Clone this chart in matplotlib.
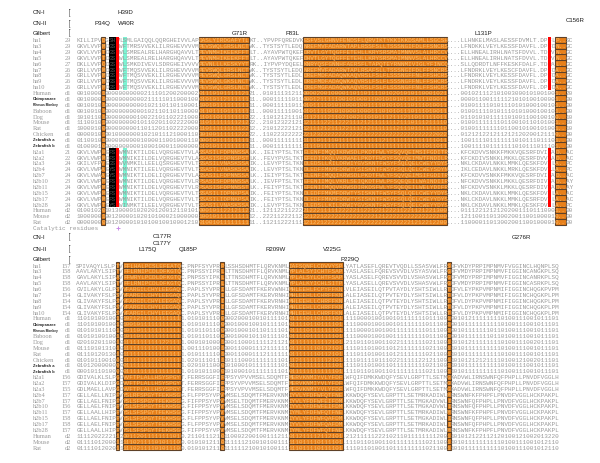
import matplotlib.pyplot as plt
from matplotlib.patches import Rectangle


def chunks(txt):
    # Sequenzen sind in 10er-Bloecken notiert, Leerzeichen nur zur Lesbarkeit
    return txt.replace(" ", "")


# ---------------- Daten ----------------
row_names = ["ha1", "ha3", "ha4", "ha5", "ha6", "ha7", "ha8", "ha9", "ha10",
             "Human", "Chimpanzee", "Rhesus Monkey", "Baboon", "Dog", "Mouse", "Rat",
             "Chicken", "Zebrafish a", "Zebrafish b",
             "h2a1", "h2a2", "h2a3", "h2b4", "h2b7", "h2b10", "h2b11", "h2b15",
             "h2b17", "h2b28", "Human", "Mouse", "Rat"]
bold_names = ["Chimpanzee", "Rhesus Monkey", "Zebrafish a", "Zebrafish b"]

top_start = ["29", "29", "29", "29", "27", "26", "26", "26", "26"] + ["d1"] * 10 + \
            ["21", "22", "24", "24", "24", "23", "24", "24", "24", "24"] + ["d2"] * 3
bottom_start = ["157", "158", "158", "158", "156", "154", "154", "154", "154"] + ["d1"] * 10 + \
               ["156", "157", "155", "157", "157", "156", "157", "158", "158", "157"] + ["d2"] * 3

top_seqs = [chunks(x) for x in [
    "KILLIPVDGS HWLSMLGAIQ QLQQRGHEIV VLAPDASLYI RDGAFYTLKT ..YPVPFQRE DVKESFVSLG HNVFENDSFL QRVIKTYKKI KKDSAMLLSG CSH....LLH NKELMASLAE SSFDVMLT.D PFLP..SC",
    "GKVLVVPMDG SHWFTMRSVV EKLILRGHEV VVVMPEVSWQ LGRSLNCTVK ..TYSTSYTL EDQNREFMVF ADARWTAPLR SSFSLLTSSS NGIFDLFFSN CRS....LFN DKKLVEYLKE SSFDAVFL.D PFDN..GC",
    "GKVLVVPTDG SHWLSMREAL RELHARGHQA VVLTPEVNMH IKEEKFFTLT ..AYAVPWTQ KEFDRVTLGY TQGFFETEHL LKRYSRSMAI MNNVSLALHR CCV....ELL HNEALIRHLN ATSFDVVL.T DPVN..GC",
    "GKVLVVPTDG SHWLSMREAL RELHARGHQA VVLTPEVNMH IKEEKFFTLT ..AYAVPWTQ KEFDHVTLGY TQGFFETEHL LKRYSRSMAI MNNVSLALHR CCV....ELL HNEALIRHLN ATSFDVVL.T DPVN..GC",
    "DKLLVVPQDG SHWLSMKDIV EVLSDRGHEI VVVVPEVNLL LKESKYYTRK ..IYPVPYDQ EELKNRYQSF GNNHFAERSF LTAPQTEYRN NMIVIGLYFI NCQ....SLL QDRDTLNFFK ESKFDALF.T DPAL..GC",
    "GRLLVVPMDG SHWFTMQSVV EKLILRGHEV VVVMPEVSWQ LERSLNCTVK ..TYSTSYTL EDQNREFMVF ADARWTAPLR SAFSLLTSSS NGIFDLFFSN CRS....LFN DRKLVEYLKE SCFDAVFL.D PFDA..GC",
    "GRLLVVPMDG SHWFTMQSVV EKLILRGHEV VVVMPEVSWQ LGRSLNCTVK ..TYSTSYTL EDLDREFMDF ADAQWKAQVR SLFSLFLSSS NGFFNLFFSH CRS....LFN DRKLVEYLKE SSFDAVFL.D PFDA..GC",
    "GRLLVVPMDG SHWFTMQSVV EKLILRGHEV VVVMPEVSWQ LGKSLNCTVK ..TYSTSYTL EDLDREFMDF ADAQWKAQVR SLFSLFLSSS NGFFNLFFSH CRS....LFN DRKLVEYLKE SSFDAVFL.D PFDA..GC",
    "GRLLVVPMDG SHWFTMQSVV EKLILRGHEV VVVMPEVSWQ LGRSLNCTVK ..TYSTSYTL EDLDREFMGF ADAQWKAQVR SLFSLFLSSS NGFFNLFFSH CRS....LFN DRKLVEYLKE SSFDAVFL.D PFDA..GC",
    "0010000100 0000000002 1110120020 0002011101 0111112121 ..01011131 2110000200 1000011011 0111101020 1010110001 021....001 0211121010 0300010100 1001..20",
    "0010000100 0000000002 1111101100 0100010101 1211111111 ..00011111 0110001211 1110010100 0110010101 0110111100 011....000 0110011111 2101010010 0001..00",
    "0010010100 0000000001 0211011011 0001100101 1111111111 ..00011111 0110101111 0101000010 0111101010 1110111010 011....010 0111101011 1010100010 0101..00",
    "0010010100 0000000001 0211011011 0000011011 1011111111 ..00011111 0010101111 0101000010 0011101010 1110111010 011....010 0111101011 1010100010 0101..00",
    "1010110100 0000000100 2210110222 1000110110 1111111222 ..11012121 1101112111 2110210021 1010111211 1211011111 011....011 0101011111 0100110010 0100..10",
    "1110010100 0000000101 1020110222 2000110111 1111121222 ..21012322 1211211112 2112221112 1211111112 1110111211 110....010 0111111101 1001011010 1001..10",
    "1000010000 0000000110 1120110222 2000110111 1111112212 ..21012222 1211211121 2111221112 1211111112 1110111111 110....010 0111111101 1001010010 1001..10",
    "0000010100 1000000010 2101112100 0110301001 1111122222 ..11022322 2222212322 2222222222 1222222222 2222222222 022....012 1212212112 1212020012 1110..00",
    "0110010100 0000000010 0001100100 0110000101 1111111111 ..00011111 1111111011 1101111111 1111121111 1111111111 011....100 1111011111 1101011101 1101..00",
    "0100001000 0000000010 0010001100 0000010101 1111111111 ..00011111 1111111011 1111111111 1111111111 1111111011 011....100 1111011111 1101011101 1101..00",
    "GKVLVWPMEF SHWMNIKTIL DELVQRGHEV TVLASSASIL FDPNNSSALK ..IEIYPTSL TKTELENFIM QQIKRWSDLP KDTFWLYFSQ VQEIMSIFGD ITR....KFC KDVVSNKKFM KKVQESRFDV IFAD..AC",
    "GKVLVWPMDF SHWMNIKIIL DELVQRGHEV TVLASSASIS FDPNSPSTLK ..FEVYPVSL TKTEFEDIIK QLVKRWAELP KDTFWSYFSQ VQEIMWTFND ILR....KFC KDIVSNKKLM KKLQESRFDV VLAD..AC",
    "GKILVFPVEG SHWVNMKILL EELQSRGHEV TVLTSSASIL VNASKSSAIK ..LEVYPTSL TKNDLEDSLL KILDRWIYGV SKNTFWSYFS QLQELCWEYY DYS....NKL CKDAVLNKKL MMKLQESKFD VILA..PC",
    "GKVLVWPAEY SHWMNIKTIL EELVQRGHEV TVLTSSASTL VNASKSSAIK ..LEVYPTSL TKNDLEDFFM KMFDRWTYSI SKNTFWSYFS QLQELCWEYS DYN....IKL CEDAVLNKKL MRKLQESKFD VLLA..PC",
    "GKVLVWAAEY SHWMNIKTIL DELIQRGHEV TVLASSASIL FDPNNSSALK ..IEIYPTSL TKTELENFIM QQIKRWSDLP KDTFWLYFSQ VQEIMSIFGD ITR....KFC KDVVSNKKFM KKVQESRFDV IFAD..AC",
    "GKVLVWPMEF SHWMNIKTIL DELVQRGHEV TVLRPSASIS FDPNNSSALK ..IEVFPTSL TKTEFENIIM QLVKRLSEIQ KDTFWLPFSQ EQEILWAIND IIR....NFC KDVVSNKKLM KKLQESRFDI VFAD..AY",
    "GKVLVWPMEF SHWMNIKTIL DELVQRGHEV TVLRPSASIS FDPNNSSTLK ..FEIYPTSL TKTEFENIIM QQVKRWSDIR KDSFWLYFSQ EQEILWELYD IFR....NFC KDVVSNKKLM KKLQESRFDI VFAD..AY",
    "GKVLVWPMEF SHWMNIKTIL DELVQRGHEV TVLTSSASIL IDPNKPSAIK ..FEIYPTSL TKNDLEDFFM KMFDRWTYSI SKNTFWSYFS QLQELCWEYY DYS....NKL CKDAVLNKKL MMKLQESKFD VILA..AC",
    "GKVLVWPMEF SHWMNIKTIL DELVQRGHEV TVLTSSASIL IDPNKPSAIK ..FEIYPTSL TKNDLEDFFM KMFDRWTYSI SKNTFWSYFS QLQELCWEYY DYS....NKL CKDAVLNKKL MMKLQESRFD VILA..AC",
    "GKVLVWPTEY SHWINMKTIL EELVQRGHEV TVLTSSASIL VNASKSSAIK ..LEVYPTSL TKNDLEDSLL KILDRWIYGV SKNTFWSYFS QLQELCWEYY DYS....NKL CKDAVLNKKL MMKLQESKFD VILA..PC",
    "0100102010 1300001020 2012001211 0101000101 1221211221 ..12112211 2222122211 1112222211 2212212221 1221121221 300....011 1221212120 2001110111 0001..00",
    "1000000100 1200001020 1010002100 0000100101 1111111112 ..22211222 1121212212 2222222222 2221212222 2222222222 200....121 1001101300 2001100100 0010..00",
    "0000000010 1200001010 1001001000 1210010010 1111111111 ..11211222 1111212212 2222212222 2222222222 2221212212 200....110 0001101300 2001100100 0010..00",
]]

bottom_seqs = [chunks(x) for x in [
    "SPIVAQYLSL PTVFFLHALP CSLEFEATQC .PNPFSYVPR PLSSHSDHMT FLQRVKNMLI AFSQNFLCDV VYSP.YATLA SEFLQREVTV QDLLSSASVW LFRSDFVKDY PRPIMPNMVF VGGINCLHQN PLSQ",
    "AAVLAKYLSI PTVFFLRNIP CDLDFKGTQC .PNPSSYIPR LLTTNSDHMT FLQRVKNMLY PLALSYICHT FSAP.YASLA SELFQREVSV VDLVSYASVW LFRGDFVMDY PRPIMPNMVF IGGINCANGK PLSQ",
    "GAVLAKYLSI PAVFFWRYLP CDLDFKGTQC .PNPSSYIPK LLTTNSDHMT FLQRVKNMLY PLALSYLCHT FSAP.YASLA SELFQREVSV VDLVSHASVW LFRGDFVMDY PRPIMPNMVF IGGINCANRK PLSQ",
    "AAVLAKYLSI PTVFFLRNIP CDLDFKGTQC .PNPSSYIPR LLTTNSDHMT FLQRVKNMLY PLALKYICHL SITP.YASLA SELLQREVSV VDLVSHASVW LFRGDFVMDY PRPIMPNMVF IGGINCASRK PLSQ",
    "GVILAKYLGL PSVVFARGIL CHYLEEGAQC .PAPLSYVPR ILLGFSDAMT FKERVWNHIM HLEEHLFCPY FFKN.VLEIA SEILQTPVTA YDLYSHTSIW LLRTDFVLEY PKPVMPNMIF IGGINCHQGK PVPM",
    "GLIVAKYFSL PSVVFARGIL CHYLEEGAQC .PAPLSYVPR ILLGFSDAMT FKERVRNHIM HLEEHLLCHR FFKN.ALEIA SEILQTPVTE YDLYSHTSIW LLRTDFVLDY PKPVMPNMIF IGGINCHQGK PLPM",
    "GLIVAKYFSL PSVVFARGIL CHYLEEGAQC .PAPLSYVPR ILLGFSDAMT FKERVRNHIM HLEEHLLCHR FFKN.ALEIA SEILQTPVTE YDLYSHTSIW LLRTDFVLDY PKPVMPNMIF IGGINCHQGK PLPM",
    "GLIVAKYFSL PSVVFARGIL CHYLEEGAQC .PAPLSYVPR ILLGFSDAMT FKERVRNHIM HLEEHLLCHR FFKN.ALEIA SEILQTPVTE YDLYSHTSIW LLRTDFVLDY PKPVMPNMIF IGGINCHQGK PLPM",
    "GLIVAKYFSL PSVVFARGIL CHYLEEGAQC .PAPLSYVPR ILLGFSDAMT FKERVRNHIM HLEEHLLCHR FFKN.ALEIA SEILQTPVTE YDLYSHTSIW LLRTDFVLDY PKPVMPNMIF IGGINCHQGK PLPM",
    "1101010010 0101021211 1111111111 .010101110 0000200010 0101111010 1111011011 1101.11100 0010010010 1111111011 1001001012 1111111101 0011100101 1101",
    "1101010010 0101001011 1111111111 .010101110 0000100010 0101111010 1111011011 1101.11100 0010010010 1111111011 1001001011 1111111101 0011100101 1101",
    "0101010111 0101011011 1111111111 .010110110 0000100010 1101111010 1111011111 1101.11100 0010010011 1111111011 1001001011 1111101101 0011100101 1101",
    "0101010010 0101011011 1111111111 .010110110 0000100010 1101111010 1111011111 1101.11100 0010010011 1111111011 1001001011 1111101101 0011100101 1101",
    "0201020110 0101111111 1111221111 .000101000 1000110001 1111211210 1111111111 2101.21101 1010011022 1111111021 1001101012 1111111101 0011100201 1101",
    "0111010131 0101111111 1111111111 .001110100 1000110001 1121111110 1111111011 2101.11101 1010011012 1111111021 1001101011 1111111101 0011100101 1101",
    "0111012013 0101111111 1111111111 .010111110 1000110001 1121111110 1111111011 2101.11101 1010011012 1111111021 1001101011 1111111101 0011100101 1101",
    "0101011001 0001111111 1110111111 .020111011 1101110001 1111111011 1211111111 2101.11101 1110111022 1111122121 1001101012 1212111101 0012100201 1101",
    "0101200000 0000111111 1111111111 .020101100 0101000101 1111111010 1111111111 1101.11101 1010011011 1111111021 1001101011 1111111101 0011100101 1101",
    "0001011010 0000111111 1111111111 .010101100 0101000101 1111111010 1111111111 1101.11101 1010011011 1111111021 1001101011 1111111101 0011100101 1101",
    "GDIVALKLSL PGDVVFTPLA LLHSYSPGYT .FERRSGGFI FPPSYVPVVM SELSDQMTFM ERVKNMIYVL YFDF.WFQIF DMKKWDQFYS EVLGRPTTLS ETMGKADVWL IRNSWNFQFP HPLLPNVDFV GGLH",
    "GDIVALKLDI PGDVVFTPLA LLHSYSPGYT .FERRSGGFI FPPSYVPVVM SELSDQMTFM ERVKNMIYVL YFDF.WFQIF DMKKWDQFYS EVLGRPTTLS ETMGKADVWL IRNSWNFQFP HPLLPNVDFV GGLH",
    "GDLMAELLAV PGDVVFTPLA LLHSYSPGYT .FERRSGGFI FPPSYVPVVM SELSDQMTFM ERVKNMIYVL YFDF.WFQIF DMKKWDQFYS EVLGRPTTLS ETMGKADVWL IRNSWNFQFP HPLLPNVDFV GGLH",
    "GELLAELLNI PFVYSLRFSP GYTFEKHSGG .FLFPPSYVP VVMSELSDQM TFMERVKNMI YVLYFDFWFQ TFNE.KKWDQ FYSEVLGRPT TLSETMRKAD IWLMRNSWNF KFPHPFLPNV DFVGGLHCKP AKPL",
    "GELLAELFNI PFVYSLSFSP GYTFEKHSGG .FIFPPSYVP VVMSELTDQM TFMERVKNMI YVLYFDFWFE IFDM.KKWDQ FYSEVLGRPT TLSETMGKAD VWLIRNSWNF QFPHPLLPNV DFVGGLHCKP AKPL",
    "GELLAELFNI PFVYSLSFSP GYTFEKHSGG .FIFPPSYVP VVMSELSDQM TFMERVKNMI YVLYFDFWFE IFDM.KKWDQ FYSEVLGRPT TLSETMGKAD VWLIRNSWNF QFPHPLLPNV DFVGGLHCKP AKPL",
    "GELLAALLHI PFVYSLSFSP GYTFEKHSGG .FIFPPSYVP VVMSELSDQM TFMERVKNMI YMLYFDFWFQ TFNE.KKWDQ FYSEVLGRPT TLSETMRKAD IWLMRNSWNF KFPHPFLPNV DFVGGLHCKP AKPL",
    "GELLAELFNI PFVYSLSFSP GYTFEKHSGG .FLFPPSYVP VVMSELSDQM TFMERVKNMI YVLYFDFWFQ AFDM.KKWDQ FYSEVLGRPT TLSETMGKAD IWLIRNSWNF QFPHPLLPNV DFVGGLHCKP AKPL",
    "GELLAELFNI PFVYSLSFSP GYTFEKHSGG .FLFPPSYVP VVMSELSDQM TFMERVKNMI YVLYFDFWFQ AFDM.KKWDQ FYSEVLGRPT TLSETMRKAD IWLIRNSWNF QFPHPLLPNV DFVGGLHCKP AKPL",
    "GELLAALLHI PFVYSLSFSP GYTFEKHSGG .FIFPPSYVP VVMSELSDQM TFMERVKNMI YMLYFDFWFQ TFNE.KKWDQ FYSEVLGRPT TLSETMRKAD IWLMRNSWNF KFPHPFLPNV DFVGGLHCKP AKPL",
    "1111202222 1120011201 1111111010 .211011121 0110002200 1001112110 1121111211 2101.21211 1112221021 1011111111 2001101012 1221121201 0012100201 3220",
    "0111101200 0111110211 1101011100 .010101211 0111111210 0101001111 1101111011 1101.11101 1010011011 1111111021 1001101011 1111111101 0011100101 2110",
    "0111101202 0111110211 1101011100 .010101211 0111111210 0101001111 1101111011 1101.11101 1010011011 1111111021 1001101011 1111111101 0011100101 2110",
]]

# markierte Alignment-Spalten (erste, letzte)
top_orange = [(7, 7), (34, 47), (63, 102), (133, 135)]
top_black = [(9, 10)]
top_red = [(11, 11)]
top_cyan = [(13, 13)]
top_redbar = [(131, 131)]
bottom_orange = [(11, 11), (13, 28), (40, 40), (59, 73), (103, 103)]
catalytic_cols = [11]
motif_groups = [(0, 8), (19, 28)]   # ha- und h2-Zeilen

syndromes = ["CN-I", "CN-II", "Gilbert"]
top_mut = ["H39D", "P34Q", "W40R", "G71R", "F83L", "L131P", "C156R"]
bottom_mut = ["C177R", "C177Y", "L175Q", "Q185P", "R209W", "V225G", "P229Q", "G276R"]

# ---------------- Layout ----------------
CW, X0 = 3.6, 76.2      # Pixel pro Spalte, linke Kante Spalte 0
RH, Y0 = 5.87, 40.7     # Pixel pro Zeile, Mitte der ersten Zeile
BOTTOM_ROW0 = 38.4
NAME_X = -12.0
NUM_X = -1.4
BRACKET_X = -2.4

top_syn_rows = [-4.72, -2.85, -1.31]
bottom_syn_rows = [33.45, 35.5, 37.25]
top_mut_pos = [(13.6, -4.72), (7.4, -2.85), (14.1, -2.85), (45.5, -1.25),
               (60.2, -1.25), (113.0, -1.25), (138.6, -3.45)]
bottom_mut_pos = [(23.8, 33.4), (23.8, 34.6), (19.9, 35.5), (31.1, 35.5),
                  (55.5, 35.5), (71.3, 35.5), (76.1, 37.2), (123.8, 33.45)]

GRAY = "#999999"
ORANGE = "#e8801a"
EDGE = "#5e4128"
LIGHT = "#fbbd6c"
RED = "#ff0000"
CYAN = "#7df3d3"
MONO = "Liberation Mono"
SEQ_FS = 4.32

fig = plt.figure(figsize=(6, 4.64), dpi=100)
ax = fig.add_axes([0, 0, 1, 1])
ax.set_xlim(-X0 / CW, (600 - X0) / CW)
ax.set_ylim((464 - Y0) / RH, -Y0 / RH)
ax.axis("off")


def inside(c, ranges):
    return any(a <= c <= b for a, b in ranges)


def draw_panel(starts, seqs, row0, orange, black=(), red=(), cyan=(), redbar=()):
    for i, (name, st, sq) in enumerate(zip(row_names, starts, seqs)):
        y = row0 + i
        motif = inside(i, motif_groups)
        if name in bold_names:
            fs = 2.3 if name == "Rhesus Monkey" else 2.9
            ax.text(NAME_X, y, name, family="Liberation Sans", fontsize=fs,
                    fontweight="bold", color="#222222", va="center")
        else:
            ax.text(NAME_X, y, name, family="Liberation Serif", fontsize=4.6,
                    color=GRAY, va="center")
        ax.text(NUM_X, y, st, family="Liberation Serif", fontsize=4.6,
                color=GRAY, va="center", ha="right")
        for a, b in orange:
            ax.add_patch(Rectangle((a, y - 0.5), b - a + 1, 1, fc=ORANGE,
                                   ec=EDGE, lw=0.8, zorder=1))
        # Textfarbe pro Spalte, dann zusammenhaengende Stuecke
        cols = []
        for c in range(len(sq)):
            if inside(c, orange):
                cols.append(LIGHT)
            elif motif and inside(c, black):
                cols.append("#505050")
            elif motif and (inside(c, red) or inside(c, redbar)):
                cols.append(RED)
            else:
                cols.append(GRAY)
        start = 0
        for c in range(1, len(sq) + 1):
            if c == len(sq) or cols[c] != cols[start]:
                ax.text(start, y, sq[start:c], family=MONO, fontsize=SEQ_FS,
                        color=cols[start], va="center", ha="left", zorder=3)
                start = c
    for g0, g1 in motif_groups:
        for ranges, fc in ((black, "black"), (red, RED), (cyan, CYAN), (redbar, RED)):
            for a, b in ranges:
                ax.add_patch(Rectangle((a, row0 + g0 - 0.5), b - a + 1, g1 - g0 + 1,
                                       fc=fc, lw=0, zorder=1))


draw_panel(top_start, top_seqs, 0, top_orange, top_black, top_red, top_cyan, top_redbar)
draw_panel(bottom_start, bottom_seqs, BOTTOM_ROW0, bottom_orange)

# katalytische Reste
cat_row = len(row_names)
ax.text(NAME_X, cat_row, "Catalytic residues", family=MONO, fontsize=SEQ_FS,
        color=GRAY, va="center")
ax.plot([c + 0.5 for c in catalytic_cols], [cat_row] * len(catalytic_cols), "+",
        color="#c98be8", ms=2.5, mew=0.7)

# Syndrome + Mutationen
for rows in (top_syn_rows, bottom_syn_rows):
    for lab, r in zip(syndromes, rows):
        ax.text(NAME_X, r, lab, family="Liberation Sans", fontsize=4.4,
                color="#1a1a1a", va="center")
        ax.text(BRACKET_X, r, "[", family="DejaVu Sans", fontsize=6.5,
                color="#1a1a1a", va="center", fontweight="light")

for labels, pos in ((top_mut, top_mut_pos), (bottom_mut, bottom_mut_pos)):
    for lab, (cx, r) in zip(labels, pos):
        ax.text(cx, r, lab, family="Liberation Sans", fontsize=4.4,
                color="#1a1a1a", va="center", ha="center")

fig.savefig("out.png", dpi=100)
